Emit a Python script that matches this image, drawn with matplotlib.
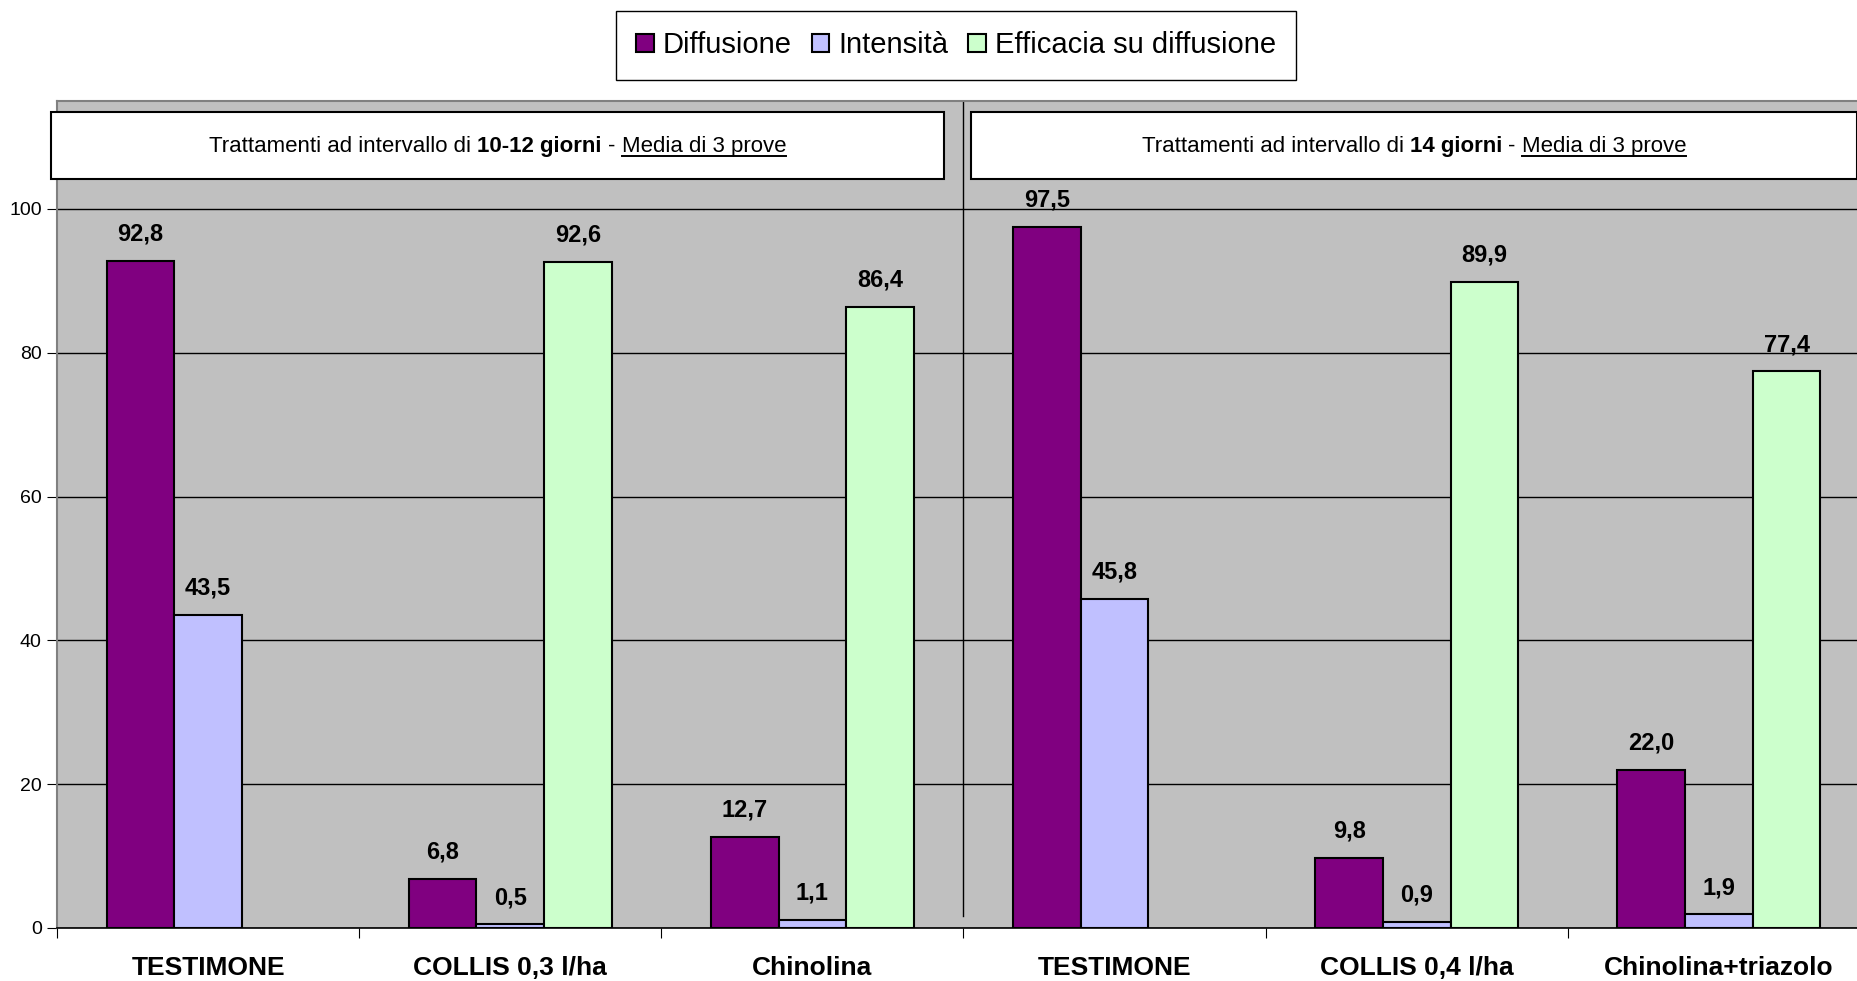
import numpy as np
import matplotlib.pyplot as plt
from matplotlib.patches import Rectangle
from matplotlib.lines import Line2D
from matplotlib.font_manager import FontProperties

plt.rcParams['font.family'] = ['Liberation Sans', 'DejaVu Sans']

# ------------------------------------------------------------
# Data
# ------------------------------------------------------------
categories = ["TESTIMONE", "COLLIS 0,3 l/ha", "Chinolina",
              "TESTIMONE", "COLLIS 0,4 l/ha", "Chinolina+triazolo"]
diffusione = [92.8, 6.8, 12.7, 97.5, 9.8, 22.0]
intensita = [43.5, 0.5, 1.1, 45.8, 0.9, 1.9]
efficacia = [np.nan, 92.6, 86.4, np.nan, 89.9, 77.4]

series_names = ["Diffusione", "Intensità", "Efficacia su diffusione"]
series_colors = ["#800080", "#C0C0FF", "#CCFFCC"]

headers = [
    [("Trattamenti ad intervallo di", "normal", False), ("10-12 giorni", "bold", False),
     ("-", "normal", False), ("Media di 3 prove", "normal", True)],
    [("Trattamenti ad intervallo di", "normal", False), ("14 giorni", "bold", False),
     ("-", "normal", False), ("Media di 3 prove", "normal", True)],
]

# ------------------------------------------------------------
# Figure
# ------------------------------------------------------------
W, H = 1858, 981
fig = plt.figure(figsize=(W / 100, H / 100), dpi=100)
ax = fig.add_axes([57 / W, 53 / H, 1813 / W, 827 / H])
ax.set_facecolor('#C0C0C0')

x = np.arange(len(categories))
w = 0.224
for i, (vals, name, col) in enumerate(zip([diffusione, intensita, efficacia], series_names, series_colors)):
    pos = x + (i - 1) * w
    ax.bar(pos, vals, w, color=col, edgecolor='black', linewidth=1.5, label=name, zorder=3)
    for xp, v in zip(pos, vals):
        if np.isnan(v):
            continue
        ax.annotate(f"{v:.1f}".replace('.', ','), (xp, v), xytext=(0, 11),
                    textcoords='offset points', ha='center', va='bottom',
                    fontsize=17, fontweight='bold')

ax.set_xlim(-0.5, 5.5)
ax.set_ylim(0, 115)
ax.set_yticks(range(0, 101, 20))
ax.tick_params(axis='y', labelsize=14, length=7, pad=4)
ax.yaxis.grid(True, color='black', linewidth=1)
ax.set_axisbelow(True)

ax.set_xticks(np.arange(-0.5, 6, 1))
ax.set_xticklabels([])
ax.tick_params(axis='x', which='major', length=7)
ax.set_xticks(x, minor=True)
ax.set_xticklabels(categories, minor=True, fontsize=19, fontweight='bold')
ax.tick_params(axis='x', which='minor', length=0, pad=20)

for s in ['left', 'top']:
    ax.spines[s].set_color('#808080')
    ax.spines[s].set_linewidth(1.5)
ax.spines['right'].set_visible(False)
ax.spines['bottom'].set_color('black')
ax.spines['bottom'].set_linewidth(1.2)

# divider between the two trial groups
ax.plot([2.5, 2.5], [1.6, 115], color='black', linewidth=1, zorder=2)

# --- header boxes ---
boxes = [(-0.52, 2.437), (2.526, 5.457)]
for (x0, x1) in boxes:
    ax.add_patch(Rectangle((x0, 104.2), x1 - x0, 9.3, facecolor='white', edgecolor='black',
                           linewidth=1.5, clip_on=False, zorder=5))

renderer = fig.canvas.get_renderer()
hsize = 16
space_w = (renderer.get_text_width_height_descent("a a", FontProperties(size=hsize), False)[0]
           - renderer.get_text_width_height_descent("aa", FontProperties(size=hsize), False)[0])

inv = ax.transData.inverted()
for (x0, x1), parts in zip(boxes, headers):
    widths = [renderer.get_text_width_height_descent(s, FontProperties(size=hsize, weight=wt), False)[0]
              for s, wt, _ in parts]
    total = sum(widths) + space_w * (len(parts) - 1)
    cx, by = ax.transData.transform(((x0 + x1) / 2, 107.9))
    px = cx - total / 2
    for (s, wt, ul), wd in zip(parts, widths):
        dx, dy = inv.transform((px, by))
        ax.text(dx, dy, s, ha='left', va='baseline', fontsize=hsize, fontweight=wt,
                zorder=6, clip_on=False)
        if ul:
            a = inv.transform((px, by - 4))
            b = inv.transform((px + wd, by - 4))
            ax.add_line(Line2D([a[0], b[0]], [a[1], b[1]], color='black', linewidth=1.4,
                               zorder=6, clip_on=False))
        px += wd + space_w

# --- legend ---
leg = fig.legend(loc='upper center', bbox_to_anchor=(956 / W, 1 - 11 / H), ncol=3, fontsize=21,
                 frameon=True, fancybox=False, edgecolor='black', framealpha=1,
                 handlelength=0.6, handleheight=0.6, handletextpad=0.3, columnspacing=0.7,
                 borderpad=0.7, borderaxespad=0)
leg.get_frame().set_linewidth(1)

fig.savefig("out.png", dpi=100)
